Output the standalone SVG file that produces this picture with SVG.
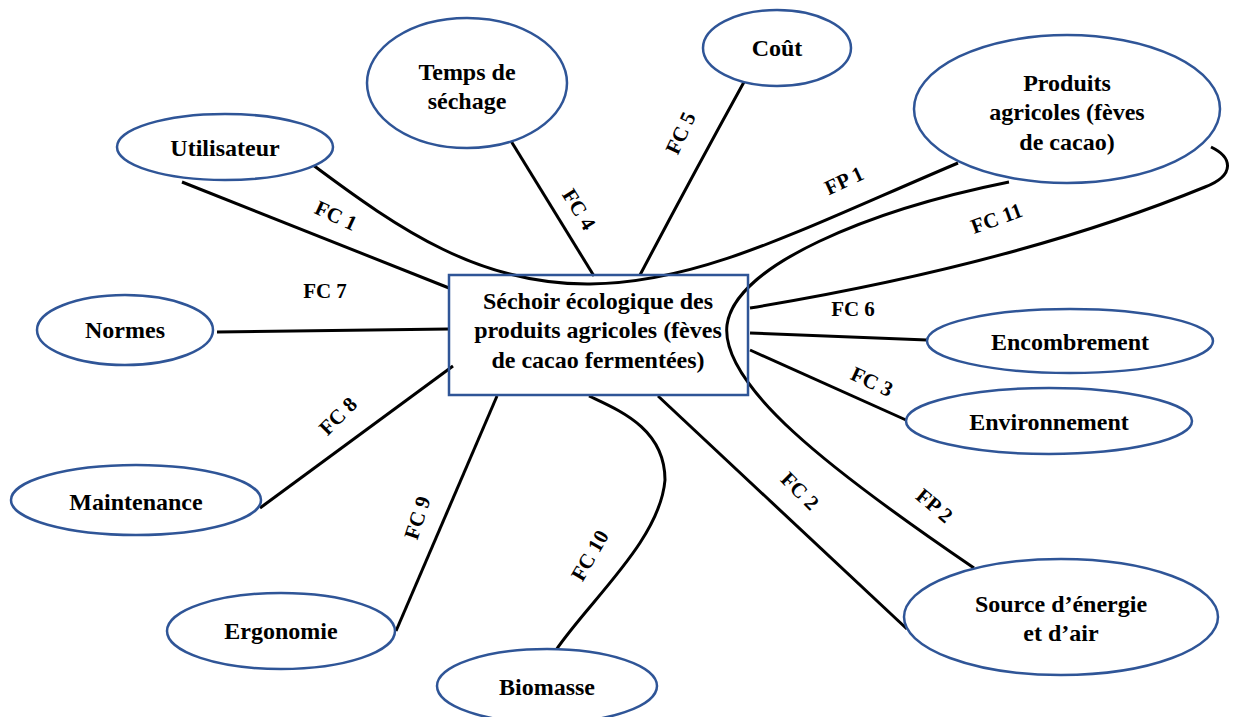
<svg xmlns="http://www.w3.org/2000/svg" width="1233" height="717" viewBox="0 0 1233 717">
<style>
.n{fill:#fff;stroke:#2F5597;stroke-width:2.5}
.t{font-family:"Liberation Serif","Times New Roman",serif;font-weight:bold;font-size:24px;fill:#000;text-anchor:middle}
.l{font-family:"Liberation Serif","Times New Roman",serif;font-weight:bold;font-size:21px;fill:#000;text-anchor:middle}
.c{fill:none;stroke:#000;stroke-width:3}
</style>
<rect width="1233" height="717" fill="#fff"/>
<g id="connectors">
<path class="c" d="M182,182 L449,288"/>
<path class="c" d="M217,332 L449,329"/>
<path class="c" d="M453,366 L260,508"/>
<path class="c" d="M497,396 L396,631"/>
<path class="c" d="M589,396 C618,410 665,428 665,480 C660,540 590,600 556,650"/>
<path class="c" d="M658,396 L907,629"/>
<path class="c" d="M750,350 L906,420"/>
<path class="c" d="M750,333 L927,340"/>
<path class="c" d="M511,141 L594,276"/>
<path class="c" d="M744,82 Q690,180 640,275"/>
<path class="c" d="M313,165 C400,230 480,285 590,284 C700,283 800,230 958,163"/>
<path class="c" d="M1009,182 C870,210 735,265 727,325 C720,385 830,470 974,568"/>
<path class="c" d="M1211,147 C1232,157 1236,175 1205,187 C1100,230 950,275 750,308"/>
<text class="l" transform="translate(333,222) rotate(25)">FC 1</text>
<text class="l" x="325" y="298">FC 7</text>
<text class="l" transform="translate(343,421) rotate(-45)">FC 8</text>
<text class="l" transform="translate(424,520) rotate(-72)">FC 9</text>
<text class="l" transform="translate(596,559) rotate(-60)">FC 10</text>
<text class="l" transform="translate(795,496) rotate(45)">FC 2</text>
<text class="l" transform="translate(930,511) rotate(40)">FP 2</text>
<text class="l" transform="translate(869,388) rotate(25)">FC 3</text>
<text class="l" x="853" y="316">FC 6</text>
<text class="l" transform="translate(573,213) rotate(58)">FC 4</text>
<text class="l" transform="translate(687,136) rotate(-65)">FC 5</text>
<text class="l" transform="translate(847,187) rotate(-25)">FP 1</text>
<text class="l" transform="translate(999,225) rotate(-20)">FC 11</text>
</g>
<g id="center">
<rect x="449" y="275" width="299" height="120" fill="#fff" fill-opacity="0" stroke="#2F5597" stroke-width="2.5"/>
<text class="t" x="598" y="309">Séchoir écologique des</text>
<text class="t" x="598" y="338">produits agricoles (fèves</text>
<text class="t" x="598" y="368">de cacao fermentées)</text>
</g>
<g id="utilisateur"><ellipse class="n" cx="225" cy="147" rx="108" ry="33"/><text class="t" x="225" y="156">Utilisateur</text></g>
<g id="temps"><ellipse class="n" cx="467" cy="83" rx="100" ry="65"/><text class="t" x="467" y="80">Temps de</text><text class="t" x="467" y="109">séchage</text></g>
<g id="cout"><ellipse class="n" cx="777" cy="48" rx="74" ry="38"/><text class="t" x="777" y="56">Coût</text></g>
<g id="produits"><ellipse class="n" cx="1067" cy="109" rx="153" ry="74"/><text class="t" x="1067" y="91">Produits</text><text class="t" x="1067" y="120">agricoles (fèves</text><text class="t" x="1067" y="150">de cacao)</text></g>
<g id="normes"><ellipse class="n" cx="125" cy="330" rx="88" ry="35"/><text class="t" x="125" y="338">Normes</text></g>
<g id="maintenance"><ellipse class="n" cx="136" cy="500" rx="125" ry="35"/><text class="t" x="136" y="510">Maintenance</text></g>
<g id="ergonomie"><ellipse class="n" cx="281" cy="631" rx="114" ry="38"/><text class="t" x="281" y="639">Ergonomie</text></g>
<g id="biomasse"><ellipse class="n" cx="547" cy="686" rx="110" ry="37"/><text class="t" x="547" y="695">Biomasse</text></g>
<g id="source"><ellipse class="n" cx="1061" cy="617" rx="157" ry="58"/><text class="t" x="1061" y="612">Source d’énergie</text><text class="t" x="1061" y="641">et d’air</text></g>
<g id="environnement"><ellipse class="n" cx="1049" cy="421" rx="143" ry="33"/><text class="t" x="1049" y="430">Environnement</text></g>
<g id="encombrement"><ellipse class="n" cx="1070" cy="341" rx="143" ry="32"/><text class="t" x="1070" y="350">Encombrement</text></g>
</svg>
